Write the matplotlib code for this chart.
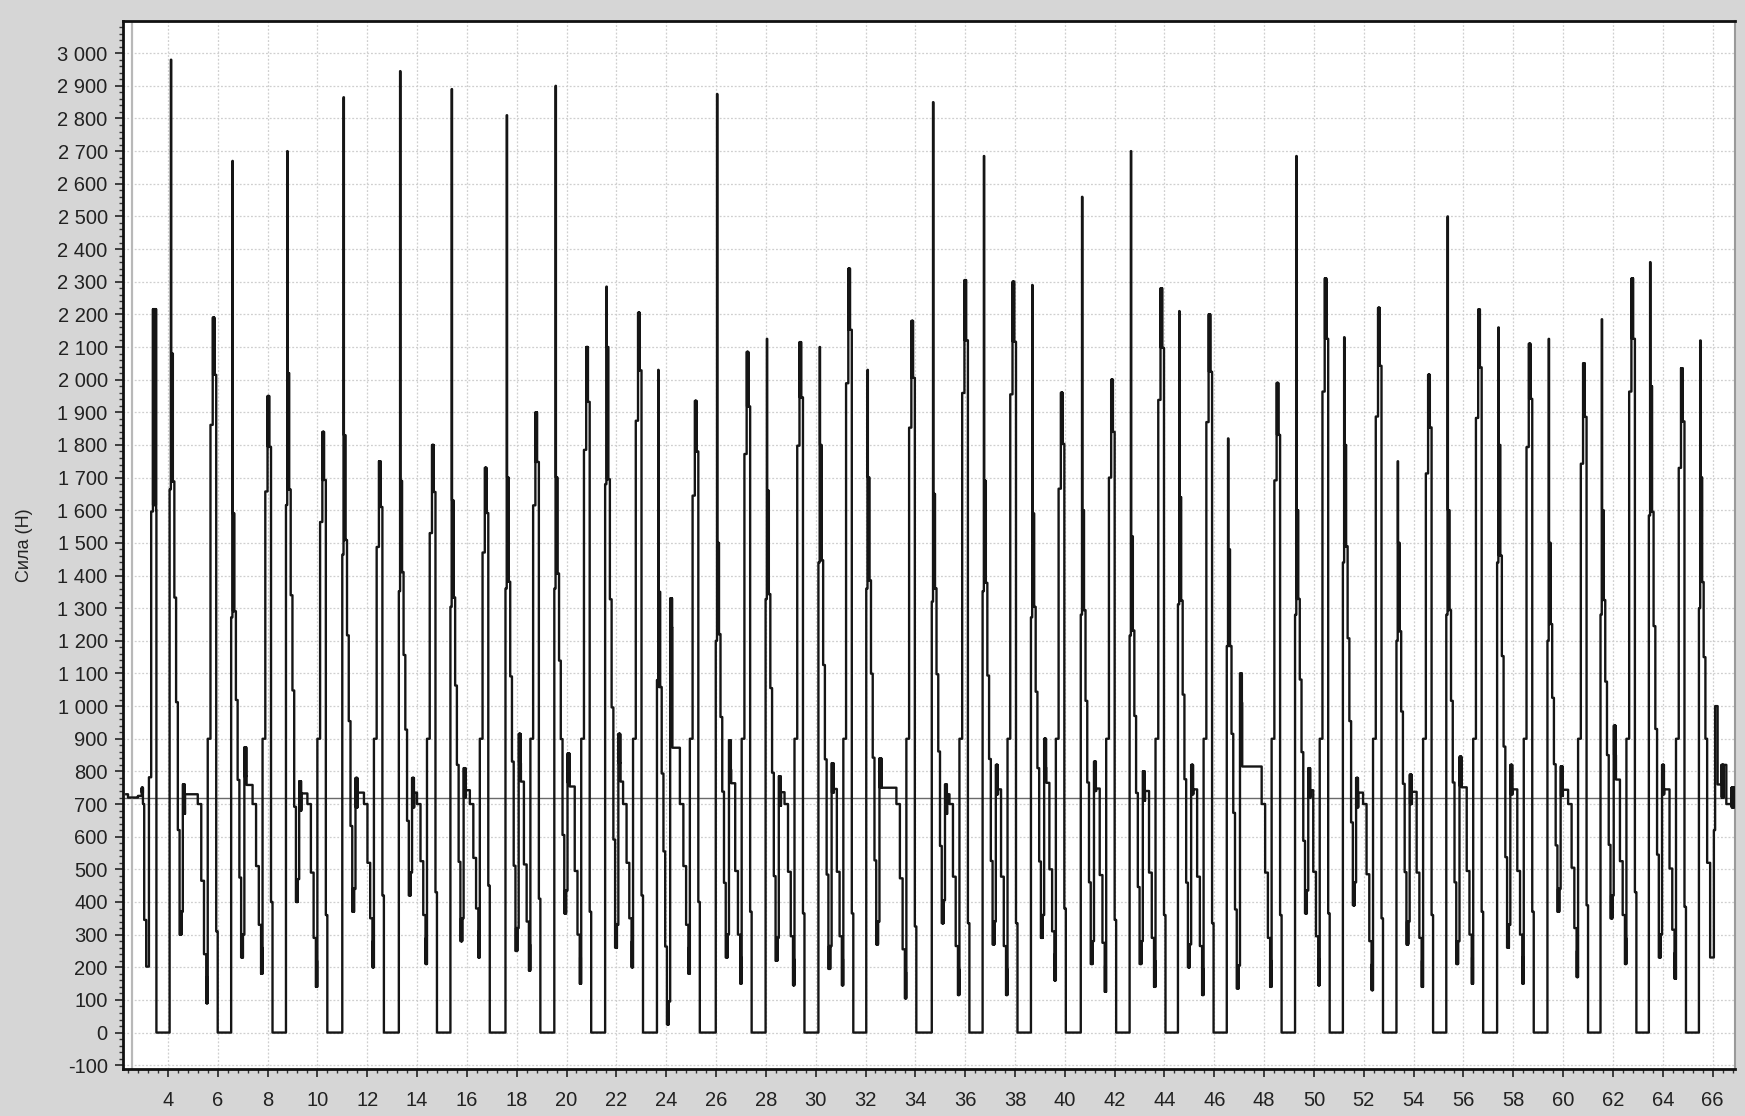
import matplotlib
matplotlib.use("Agg")
import matplotlib.pyplot as plt
from matplotlib.ticker import MultipleLocator, FuncFormatter

plt.rcParams['font.family'] = ['Liberation Sans', 'DejaVu Sans']

# flight phases (force = 0), seconds
flight_start = [3.54, 6.00, 8.20, 10.40, 12.67, 14.80, 16.92, 18.95, 20.99, 23.07,
                25.35, 27.43, 29.55, 31.51, 34.04, 36.17, 38.10, 40.04, 42.06, 44.04,
                45.97, 48.70, 50.63, 52.77, 54.78, 56.79, 58.82, 61.00, 62.94, 64.93]
flight_end = [4.07, 6.54, 8.74, 11.00, 13.27, 15.34, 17.55, 19.51, 21.55, 23.63,
              25.99, 27.99, 30.11, 32.03, 34.66, 36.70, 38.64, 40.64, 42.60, 44.54,
              46.50, 49.24, 51.16, 53.31, 55.31, 57.35, 59.37, 61.50, 63.44, 65.45]

# contact phases between flights 1..29 (N)
landing_peak = [2980, 2670, 2700, 2865, 2945, 2890, 2810, 2900, 2285, 2030,
                2875, 2125, 2100, 2030, 2850, 2685, 2290, 2560, 2700, 2210,
                1820, 2685, 2130, 1750, 2500, 2160, 2125, 2185, 2360]
shoulder = [2080, 1590, 2020, 1830, 1690, 1630, 1700, 1700, 2100, 1350,
            1500, 1660, 1800, 1700, 1650, 1690, 1590, 1600, 1520, 1640,
            1480, 1600, 1800, 1500, 1600, 1800, 1500, 1600, 1980]
low1 = [300, 230, 400, 370, 420, 280, 250, 365, 260, 25,
        230, 220, 195, 270, 335, 270, 290, 210, 210, 200,
        135, 365, 390, 270, 210, 260, 370, 350, 230]
mid = [760, 874, 770, 780, 780, 810, 915, 855, 915, 1330,
       895, 785, 825, 840, 760, 820, 900, 830, 800, 820,
       1100, 810, 780, 790, 845, 820, 815, 940, 820]
low2 = [90, 180, 140, 200, 210, 230, 190, 150, 200, 180,
        150, 145, 145, 105, 115, 115, 160, 125, 140, 115,
        140, 145, 130, 140, 150, 150, 170, 210, 165]
push_peak = [2190, 1950, 1840, 1750, 1800, 1730, 1900, 2100, 2205, 1935,
             2085, 2115, 2340, 2180, 2305, 2300, 1960, 2000, 2280, 2200,
             1990, 2310, 2220, 2015, 2215, 2110, 2050, 2310, 2035]

# start of record (standing, then first push-off)
head_t = [2.33, 2.40, 2.80, 2.95, 3.00, 3.05, 3.13, 3.24, 3.33, 3.40, 3.53]
head_v = [730, 720, 725, 750, 700, 345, 202, 782, 1596, 2216, 1600]

# end of record (last landing)
tail_t = [65.45, 65.50, 65.52, 65.58, 65.64, 65.71, 65.78, 65.90, 66.05, 66.10, 66.20, 66.35, 66.55, 66.75, 66.88]
tail_v = [1300, 2120, 1580, 1380, 1150, 900, 520, 230, 620, 1000, 760, 820, 700, 750, 700]

baseline = 720


def chatter(t, v, t0, t1, a, b, dt=0.006):
    k = 0
    x = t0
    while x < t1:
        t.append(x)
        v.append(a if k % 2 == 0 else b)
        x += dt
        k += 1


def add_sorted(T, V, pt, pv):
    pairs = sorted(zip(pt, pv))
    T += [p[0] for p in pairs]
    V += [p[1] for p in pairs]


T, V = [], []
hT, hV = list(head_t), list(head_v)
chatter(hT, hV, 2.95, 3.00, 750, 735)
chatter(hT, hV, 3.40, 3.52, 2216, 1616)
add_sorted(T, V, hT, hV)

for i in range(len(flight_end)):
    T += [flight_start[i]]
    V += [0]
    te = flight_end[i]
    if i == len(flight_end) - 1:
        tT, tV = list(tail_t), list(tail_v)
        chatter(tT, tV, 65.525, 65.57, 1580, 1700)
        chatter(tT, tV, 66.36, 66.45, 820, 720)
        chatter(tT, tV, 66.76, 66.87, 750, 690)
        add_sorted(T, V, tT, tV)
        break
    ts = flight_start[i + 1]
    P, B, L1, M, L2, Q = landing_peak[i], shoulder[i], low1[i], mid[i], low2[i], push_peak[i]
    seg = []
    # landing: impact spike, then staircase down
    seg += [(te, 0.8 * B), (te + 0.05, P), (te + 0.065, B)]
    seg += [(te + 0.13, B + (L1 - B) * 0.22), (te + 0.19, B + (L1 - B) * 0.42),
            (te + 0.26, B + (L1 - B) * 0.6), (te + 0.33, B + (L1 - B) * 0.82),
            (te + 0.40, L1), (te + 0.53, M)]
    # mid stance
    seg += [(te + 0.62, baseline + (M - baseline) * 0.25)]
    if ts - 0.80 > te + 0.70:
        seg += [(ts - 0.80, baseline - 20)]
    seg += [(max(ts - 0.66, te + 0.70), (baseline + L2) / 2 + 60)]
    # push-off
    seg += [(ts - 0.55, L2 + 150), (ts - 0.46, L2), (ts - 0.40, 900),
            (ts - 0.29, 0.85 * Q), (ts - 0.20, Q), (ts - 0.13, 0.92 * Q),
            (ts - 0.06, L2 + 220)]
    sT = [s[0] for s in seg]
    sV = [s[1] for s in seg]
    chatter(sT, sV, te + 0.07, te + 0.11, B, B + (L1 - B) * 0.22)
    chatter(sT, sV, te + 0.42, te + 0.48, L1, L1 + 70)
    chatter(sT, sV, te + 0.54, te + 0.61, M, M - 90)
    chatter(sT, sV, ts - 0.45, ts - 0.41, L2, L2 + 80)
    chatter(sT, sV, ts - 0.19, ts - 0.14, Q, 0.92 * Q)
    add_sorted(T, V, sT, sV)

fig = plt.figure(figsize=(17.45, 11.16), dpi=100, facecolor='#d6d6d6')
ax = fig.add_axes([0.0705, 0.042, 0.9238, 0.939])
ax.set_facecolor('white')

ax.plot(T, V, drawstyle='steps-post', color='#151515', lw=1.7, zorder=3)
ax.axhline(baseline, color='#6a6a6a', lw=1.0, zorder=2)
ax.axvline(2.55, color='#b8b8b8', lw=1.6, zorder=2)

ax.set_xlim(2.2, 66.9)
ax.set_ylim(-112, 3098)
ax.xaxis.set_major_locator(MultipleLocator(2))
ax.xaxis.set_minor_locator(MultipleLocator(0.4))
ax.yaxis.set_major_locator(MultipleLocator(100))
ax.yaxis.set_minor_locator(MultipleLocator(20))
ax.yaxis.set_major_formatter(FuncFormatter(lambda v, p: f"{int(round(v)):,}".replace(",", " ")))
ax.xaxis.set_major_formatter(FuncFormatter(lambda v, p: f"{int(round(v))}"))

ax.grid(True, which='major', color='#cfcfcf', lw=0.9, linestyle=(0, (1.5, 1.5)), zorder=1)
ax.tick_params(axis='both', which='major', direction='out', length=6, width=1.2,
               labelsize=14.5, colors='#222222')
ax.tick_params(axis='x', which='major', pad=10)
ax.tick_params(axis='y', which='major', pad=5)
ax.tick_params(axis='both', which='minor', direction='out', length=3, width=1.0, colors='#333333')

for s in ['left', 'top', 'bottom']:
    ax.spines[s].set_color('#111111')
    ax.spines[s].set_linewidth(2.0)
ax.spines['right'].set_color('#9a9a9a')
ax.spines['right'].set_linewidth(1.5)

ax.set_ylabel('Сила (Н)', fontsize=13, color='#222222')
ax.yaxis.set_label_coords(-0.056, 0.5)

fig.savefig('out.png', dpi=100, facecolor=fig.get_facecolor())
